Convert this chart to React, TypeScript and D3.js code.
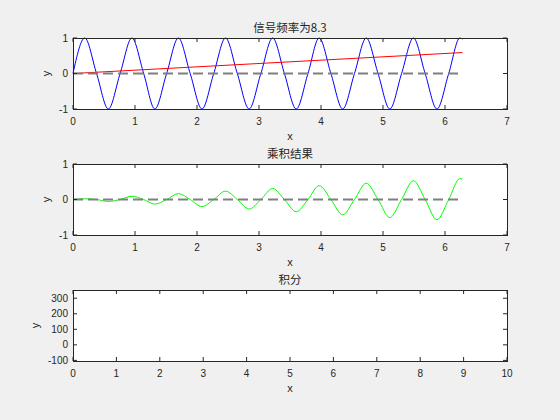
import React from "react";
import * as d3 from "d3";

// ---- data ----
const titles = ["信号频率为8.3", "乘积结果", "积分"];
const xTicksTop = [0, 1, 2, 3, 4, 5, 6, 7];
const yTicksTop = [-1, 0, 1];
const xTicksBottom = [0, 1, 2, 3, 4, 5, 6, 7, 8, 9, 10];
const yTicksBottom = [-100, 0, 100, 200, 300];

// blue signal: zero crossings and extrema
const signalX = [0, 0.19, 0.38, 0.57, 0.76, 0.95, 1.14, 1.32, 1.51, 1.7, 1.89, 2.08, 2.27, 2.46, 2.65, 2.84, 3.03, 3.22, 3.41, 3.6, 3.79, 3.97, 4.16, 4.35, 4.54, 4.73, 4.92, 5.11, 5.3, 5.49, 5.68, 5.87, 6.06, 6.24, 6.28];
const signalY = [0, 1, 0, -1, 0, 1, 0, -1, 0, 1, 0, -1, 0, 1, 0, -1, 0, 1, 0, -1, 0, 1, 0, -1, 0, 1, 0, -1, 0, 1, 0, -1, 0, 1, 0.97];

// red ramp
const rampX = [0, 6.28];
const rampY = [0, 0.59];

// green product: zero crossings and extrema
const productX = signalX;
const productY = [0, 0.02, 0, -0.055, 0, 0.09, 0, -0.13, 0, 0.165, 0, -0.2, 0, 0.235, 0, -0.27, 0, 0.31, 0, -0.345, 0, 0.39, 0, -0.43, 0, 0.46, 0, -0.51, 0, 0.53, 0, -0.57, 0, 0.59, 0.58];

// dashed zero line
const zeroX = [0, 6.28];
const zeroY = [0, 0];

const W = 560;
const H = 420;
const LEFT = 73;
const RIGHT = 507;
const panels = [
  { top: 38, bottom: 109 },
  { top: 164, bottom: 235 },
  { top: 290, bottom: 361 },
];

const LATIN = "'Liberation Sans', Arial, Helvetica, sans-serif";
const CJK = "'Noto Sans CJK SC', 'Liberation Sans', sans-serif";
const TXT = "#262626";

type Series = { xs: number[]; ys: number[]; color: string; width: number; dash?: string; smooth: boolean };

function Axes({
  idx,
  xDomain,
  yDomain,
  xTicks,
  yTicks,
  series,
}: {
  idx: number;
  xDomain: [number, number];
  yDomain: [number, number];
  xTicks: number[];
  yTicks: number[];
  series: Series[];
}) {
  const p = panels[idx];
  const x = d3.scaleLinear().domain(xDomain).range([LEFT, RIGHT]);
  const y = d3.scaleLinear().domain(yDomain).range([p.bottom, p.top]);
  const tl = 4;
  const maxLabelLen = d3.max(yTicks, (t) => String(t).length) || 1;
  const yLabelX = LEFT - 12 - maxLabelLen * 5.6;
  return (
    <g>
      <rect x={LEFT} y={p.top} width={RIGHT - LEFT} height={p.bottom - p.top} fill="#ffffff" />
      {series.map((s, i) => {
        const pts = s.xs.map((v, j) => [v, s.ys[j]] as [number, number]);
        const gen = d3
          .line<[number, number]>()
          .x((d) => x(d[0]))
          .y((d) => y(d[1]))
          .curve(s.smooth ? d3.curveMonotoneX : d3.curveLinear);
        return (
          <path
            key={i}
            d={gen(pts) || ""}
            fill="none"
            stroke={s.color}
            strokeWidth={s.width}
            strokeDasharray={s.dash}
          />
        );
      })}
      {/* ticks */}
      {xTicks.map((t) => (
        <g key={"x" + t}>
          <line x1={x(t)} x2={x(t)} y1={p.bottom} y2={p.bottom - tl} stroke={TXT} strokeWidth={1} />
          <line x1={x(t)} x2={x(t)} y1={p.top} y2={p.top + tl} stroke={TXT} strokeWidth={1} />
          <text x={x(t)} y={p.bottom + 16} textAnchor="middle" fontSize={10} fill={TXT} fontFamily={LATIN}>
            {t}
          </text>
        </g>
      ))}
      {yTicks.map((t) => (
        <g key={"y" + t}>
          <line x1={LEFT} x2={LEFT + tl} y1={y(t)} y2={y(t)} stroke={TXT} strokeWidth={1} />
          <line x1={RIGHT} x2={RIGHT - tl} y1={y(t)} y2={y(t)} stroke={TXT} strokeWidth={1} />
          <text x={LEFT - 5} y={y(t) + 3.5} textAnchor="end" fontSize={10} fill={TXT} fontFamily={LATIN}>
            {t}
          </text>
        </g>
      ))}
      <rect
        x={LEFT}
        y={p.top}
        width={RIGHT - LEFT}
        height={p.bottom - p.top}
        fill="none"
        stroke={TXT}
        strokeWidth={1}
        shapeRendering="crispEdges"
      />
      <text
        x={(LEFT + RIGHT) / 2}
        y={p.top - 6}
        textAnchor="middle"
        fontSize={11.5}
        fill={TXT}
        fontFamily={CJK}
      >
        {titles[idx]}
      </text>
      <text x={(LEFT + RIGHT) / 2} y={p.bottom + 31} textAnchor="middle" fontSize={11} fill={TXT} fontFamily={LATIN}>
        x
      </text>
      <text
        transform={`translate(${yLabelX},${(p.top + p.bottom) / 2}) rotate(-90)`}
        textAnchor="middle"
        fontSize={11}
        fill={TXT}
        fontFamily={LATIN}
      >
        y
      </text>
    </g>
  );
}

export default function App() {
  const dash = "10,5";
  return (
    <svg width={W} height={H} style={{ position: "absolute", left: 0, top: 0 }}>
      <rect x={0} y={0} width={W} height={H} fill="#f0f0f0" />
      <Axes
        idx={0}
        xDomain={[0, 7]}
        yDomain={[-1, 1]}
        xTicks={xTicksTop}
        yTicks={yTicksTop}
        series={[
          { xs: signalX, ys: signalY, color: "#0000ff", width: 1, smooth: true },
          { xs: rampX, ys: rampY, color: "#ff0000", width: 1, smooth: false },
          { xs: zeroX, ys: zeroY, color: "#7f7f7f", width: 2, dash, smooth: false },
        ]}
      />
      <Axes
        idx={1}
        xDomain={[0, 7]}
        yDomain={[-1, 1]}
        xTicks={xTicksTop}
        yTicks={yTicksTop}
        series={[
          { xs: productX, ys: productY, color: "#00ff00", width: 1, smooth: true },
          { xs: zeroX, ys: zeroY, color: "#7f7f7f", width: 2, dash, smooth: false },
        ]}
      />
      <Axes
        idx={2}
        xDomain={[0, 10]}
        yDomain={[-104, 353]}
        xTicks={xTicksBottom}
        yTicks={yTicksBottom}
        series={[]}
      />
    </svg>
  );
}
